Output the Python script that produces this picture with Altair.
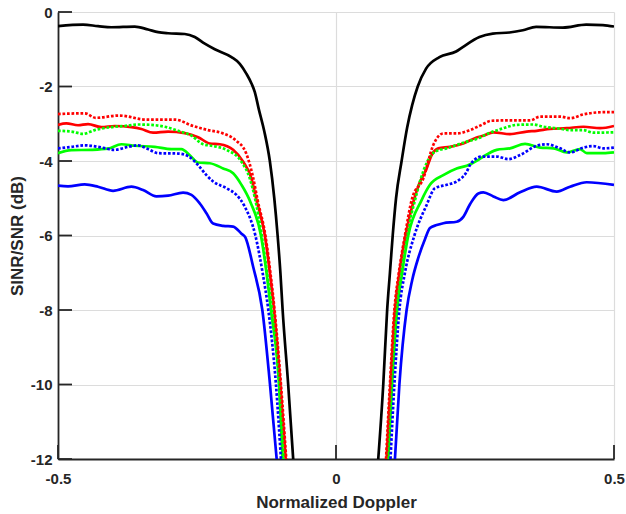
import altair as alt
import pandas as pd

# ---------------- data ----------------
black_left_x = [-0.5, -0.455, -0.428, -0.404, -0.362, -0.338, -0.320, -0.302, -0.272, -0.254, -0.236, -0.218, -0.188, -0.173, -0.161, -0.152, -0.146, -0.139, -0.129, -0.119, -0.111, -0.105, -0.100, -0.096, -0.086, -0.077]
black_left_y = [-0.38, -0.34, -0.38, -0.41, -0.39, -0.47, -0.54, -0.57, -0.59, -0.67, -0.85, -1.00, -1.21, -1.39, -1.66, -1.92, -2.15, -2.60, -3.20, -4.00, -5.00, -6.00, -7.00, -8.00, -10.0, -12.0]
black_right_x = [0.076, 0.085, 0.092, 0.097, 0.102, 0.108, 0.118, 0.128, 0.137, 0.147, 0.162, 0.186, 0.216, 0.228, 0.258, 0.282, 0.312, 0.336, 0.360, 0.408, 0.450, 0.480, 0.500]
black_right_y = [-12.0, -10.0, -8.0, -7.0, -6.0, -5.0, -4.0, -3.1, -2.5, -2.0, -1.52, -1.21, -1.06, -0.94, -0.67, -0.58, -0.55, -0.49, -0.40, -0.42, -0.34, -0.35, -0.39]

red_left_x = [-0.5, -0.485, -0.464, -0.446, -0.422, -0.398, -0.368, -0.350, -0.329, -0.302, -0.272, -0.248, -0.227, -0.209, -0.185, -0.167, -0.152, -0.143, -0.128, -0.119, -0.1115, -0.100, -0.0905]
red_left_y = [-3.03, -2.99, -3.04, -3.01, -3.09, -3.06, -3.09, -3.14, -3.24, -3.21, -3.25, -3.36, -3.53, -3.55, -3.70, -4.02, -4.47, -5.05, -6.0, -7.0, -8.0, -10.0, -12.0]
red_right_x = [0.091, 0.098, 0.106, 0.114, 0.125, 0.140, 0.150, 0.163, 0.172, 0.184, 0.205, 0.229, 0.253, 0.265, 0.283, 0.313, 0.343, 0.361, 0.385, 0.415, 0.445, 0.475, 0.500]
red_right_y = [-12.0, -10.0, -8.0, -7.0, -6.0, -5.05, -4.60, -4.20, -3.84, -3.66, -3.62, -3.53, -3.37, -3.32, -3.23, -3.28, -3.21, -3.19, -3.14, -3.12, -3.08, -3.12, -3.06]

red_dot_left_x = [-0.5, -0.452, -0.432, -0.390, -0.340, -0.289, -0.259, -0.230, -0.203, -0.180, -0.162, -0.149, -0.141, -0.127, -0.118, -0.1105, -0.099, -0.0895]
red_dot_left_y = [-2.74, -2.72, -2.84, -2.78, -2.89, -2.89, -3.05, -3.17, -3.26, -3.45, -3.78, -4.45, -5.05, -6.0, -7.0, -8.0, -10.0, -12.0]
red_dot_right_x = [0.090, 0.097, 0.105, 0.113, 0.124, 0.137, 0.157, 0.175, 0.193, 0.217, 0.241, 0.259, 0.280, 0.307, 0.349, 0.367, 0.403, 0.421, 0.445, 0.481, 0.500]
red_dot_right_y = [-12.0, -10.0, -8.0, -7.0, -6.0, -5.0, -4.47, -3.57, -3.26, -3.26, -3.17, -3.05, -2.92, -2.91, -2.91, -2.81, -2.81, -2.85, -2.75, -2.69, -2.69]

green_left_x = [-0.5, -0.476, -0.440, -0.410, -0.386, -0.362, -0.326, -0.296, -0.278, -0.262, -0.248, -0.227, -0.203, -0.185, -0.170, -0.154, -0.135, -0.125, -0.117, -0.1025, -0.096]
green_left_y = [-3.79, -3.71, -3.70, -3.67, -3.55, -3.59, -3.62, -3.68, -3.68, -3.86, -4.04, -4.06, -4.20, -4.33, -4.64, -5.10, -6.0, -7.0, -8.0, -10.0, -12.0]
green_right_x = [0.094, 0.101, 0.110, 0.119, 0.130, 0.154, 0.169, 0.193, 0.217, 0.235, 0.256, 0.265, 0.289, 0.313, 0.340, 0.367, 0.391, 0.415, 0.439, 0.451, 0.481, 0.500]
green_right_y = [-12.0, -10.0, -8.0, -7.0, -6.0, -5.05, -4.64, -4.38, -4.20, -4.13, -3.97, -3.88, -3.70, -3.66, -3.54, -3.64, -3.66, -3.77, -3.68, -3.79, -3.79, -3.77]

green_dot_left_x = [-0.5, -0.476, -0.455, -0.434, -0.410, -0.380, -0.356, -0.332, -0.308, -0.284, -0.260, -0.239, -0.220, -0.197, -0.170, -0.155, -0.145, -0.1335, -0.124, -0.1145, -0.102, -0.094]
green_dot_left_y = [-3.19, -3.21, -3.27, -3.17, -3.10, -3.06, -3.02, -3.03, -3.08, -3.19, -3.32, -3.55, -3.60, -3.70, -4.02, -4.47, -5.05, -6.0, -7.0, -8.0, -10.0, -12.0]
green_dot_right_x = [0.092, 0.099, 0.107, 0.116, 0.127, 0.143, 0.151, 0.178, 0.199, 0.235, 0.256, 0.271, 0.301, 0.325, 0.355, 0.373, 0.397, 0.421, 0.445, 0.463, 0.500]
green_dot_right_y = [-12.0, -10.0, -8.0, -7.0, -6.0, -5.0, -4.55, -3.75, -3.66, -3.48, -3.39, -3.28, -3.12, -3.03, -3.02, -3.08, -3.12, -3.17, -3.17, -3.24, -3.23]

blue_left_x = [-0.5, -0.482, -0.452, -0.428, -0.401, -0.368, -0.347, -0.323, -0.302, -0.275, -0.260, -0.245, -0.233, -0.221, -0.203, -0.185, -0.170, -0.163, -0.149, -0.1325, -0.1187, -0.1067]
blue_left_y = [-4.66, -4.68, -4.63, -4.69, -4.80, -4.69, -4.78, -4.95, -4.93, -4.85, -4.91, -5.14, -5.40, -5.68, -5.74, -5.76, -5.95, -6.05, -6.84, -8.0, -10.0, -12.0]
blue_right_x = [0.106, 0.114, 0.127, 0.137, 0.148, 0.160, 0.169, 0.181, 0.193, 0.217, 0.229, 0.241, 0.256, 0.265, 0.283, 0.301, 0.331, 0.361, 0.397, 0.421, 0.451, 0.500]
blue_right_y = [-12.0, -10.0, -8.0, -7.2, -6.6, -6.1, -5.8, -5.72, -5.67, -5.63, -5.50, -5.16, -4.87, -4.84, -4.95, -5.05, -4.84, -4.69, -4.82, -4.69, -4.57, -4.64]

blue_dot_left_x = [-0.5, -0.476, -0.452, -0.428, -0.398, -0.374, -0.356, -0.338, -0.320, -0.284, -0.266, -0.248, -0.233, -0.221, -0.197, -0.179, -0.165, -0.145, -0.132, -0.1217, -0.108, -0.099]
blue_dot_left_y = [-3.66, -3.62, -3.58, -3.62, -3.70, -3.62, -3.58, -3.68, -3.79, -3.80, -3.87, -4.11, -4.38, -4.55, -4.73, -4.91, -5.20, -6.0, -7.0, -8.0, -10.0, -12.0]
blue_dot_right_x = [0.098, 0.105, 0.114, 0.124, 0.141, 0.163, 0.178, 0.202, 0.217, 0.235, 0.241, 0.262, 0.289, 0.310, 0.331, 0.361, 0.379, 0.403, 0.421, 0.445, 0.463, 0.481, 0.500]
blue_dot_right_y = [-12.0, -10.0, -8.0, -7.0, -6.0, -5.18, -4.73, -4.63, -4.55, -4.29, -4.11, -3.88, -3.88, -3.95, -3.84, -3.59, -3.55, -3.66, -3.77, -3.64, -3.60, -3.66, -3.64]

x_ticks = [-0.5, 0, 0.5]
y_ticks = [0, -2, -4, -6, -8, -10, -12]

series = [
    # name, style, left x, left y, right x, right y
    ("black", "solid", black_left_x, black_left_y, black_right_x, black_right_y),
    ("blue", "solid", blue_left_x, blue_left_y, blue_right_x, blue_right_y),
    ("green", "solid", green_left_x, green_left_y, green_right_x, green_right_y),
    ("red", "solid", red_left_x, red_left_y, red_right_x, red_right_y),
    ("blue dotted", "dotted", blue_dot_left_x, blue_dot_left_y, blue_dot_right_x, blue_dot_right_y),
    ("green dotted", "dotted", green_dot_left_x, green_dot_left_y, green_dot_right_x, green_dot_right_y),
    ("red dotted", "dotted", red_dot_left_x, red_dot_left_y, red_dot_right_x, red_dot_right_y),
]
color_domain = [s[0] for s in series]
color_range = ["#000000", "#0000ff", "#00ff00", "#ff0000", "#0000ff", "#00ff00", "#ff0000"]

rows = []
for name, style, lx, ly, rx, ry in series:
    for side, xs, ys in (("left", lx, ly), ("right", rx, ry)):
        for i, (a, b) in enumerate(zip(xs, ys)):
            rows.append({"series": name, "style": style, "branch": name + "-" + side,
                         "order": i, "x": a, "y": b})
df = pd.DataFrame(rows)

W, H = 556, 447
FONT = "Liberation Sans"
DARK = "#262626"

x_enc = alt.X("x:Q", scale=alt.Scale(domain=[-0.5, 0.5], nice=False, zero=False),
              axis=alt.Axis(values=x_ticks, title="Normalized Doppler",
                            labelExpr="toString(datum.value)", tickSize=0, ticks=False,
                            labelFlush=False, labelPadding=12, titlePadding=8))
y_enc = alt.Y("y:Q", scale=alt.Scale(domain=[-12, 0], nice=False, zero=False),
              axis=alt.Axis(values=y_ticks, title="SINR/SNR (dB)",
                            labelExpr="toString(datum.value)", tickSize=0, ticks=False,
                            labelFlush=False, labelPadding=6, titlePadding=4))
color_enc = alt.Color("series:N", scale=alt.Scale(domain=color_domain, range=color_range), legend=None)

solid = alt.Chart(df).transform_filter(alt.datum.style == "solid").mark_line(
    strokeWidth=2.7, interpolate="monotone", clip=True
).encode(x=x_enc, y=y_enc, color=color_enc, detail="branch:N", order="order:Q")

dotted = alt.Chart(df).transform_filter(alt.datum.style == "dotted").mark_line(
    strokeWidth=2.7, interpolate="monotone", strokeDash=[2.7, 1.8], strokeCap="butt", clip=True
).encode(x=x_enc, y=y_enc, color=color_enc, detail="branch:N", order="order:Q")

ytick_df = pd.DataFrame({"y": y_ticks})
xtick_df = pd.DataFrame({"x": x_ticks})

yticks = alt.Chart(ytick_df).mark_rule(color=DARK, strokeWidth=1.8).encode(
    y=y_enc, x=alt.value(0), x2=alt.value(14))
xticks = alt.Chart(xtick_df).mark_rule(color=DARK, strokeWidth=1.8).encode(
    x=x_enc, y=alt.value(H - 14), y2=alt.value(H))

chart = alt.layer(solid, dotted, yticks, xticks).properties(
    width=W, height=H,
    autosize=alt.AutoSizeParams(type="none"),
    padding={"left": 58, "top": 12, "right": 12, "bottom": 55},
).configure_view(stroke=None).configure_axis(
    grid=True, gridColor="#dcdcdc", gridWidth=1.2,
    domainColor=DARK, domainWidth=1.8,
    labelFont=FONT, labelFontSize=15, labelFontWeight="bold", labelColor=DARK,
    titleFont=FONT, titleFontSize=17, titleFontWeight="bold", titleColor=DARK,
)

chart.save("out.html", embed_options={"renderer": "svg", "actions": False})
